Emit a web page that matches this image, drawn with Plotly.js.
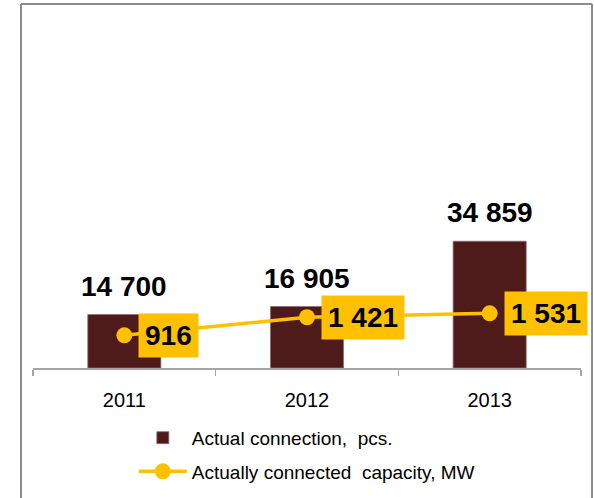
<!DOCTYPE html>
<html>
<head>
<meta charset="utf-8">
<script src="https://cdn.plot.ly/plotly-3.0.1.min.js"></script>
<style>
  html, body { margin: 0; padding: 0; background: #ffffff; }
  #chart { width: 594px; height: 498px; }
</style>
</head>
<body>
<div id="chart"></div>
<script>
// ---- data ----
const years = ['2011', '2012', '2013'];
const connections = [14700, 16905, 34859];
const capacityMW = [916, 1421, 1531];
const seriesNames = ['Actual connection,  pcs.', 'Actually connected  capacity, MW'];

const barColor = '#4E1A1A';
const lineColor = '#FFC000';
const fontFam = 'Liberation Sans, Arial, sans-serif';

function fmt(v) {
  return String(v).replace(/\B(?=(\d{3})+(?!\d))/g, ' ');
}

const traces = [
  {
    type: 'bar',
    name: seriesNames[0],
    x: years,
    y: connections,
    yaxis: 'y',
    marker: { color: barColor, line: { color: '#8a7070', width: 0.8 } },
    width: 0.4,
    hoverinfo: 'skip',
    legendgroup: 'a'
  },
  {
    type: 'scatter',
    mode: 'lines+markers',
    name: seriesNames[1],
    x: years,
    y: capacityMW,
    yaxis: 'y2',
    line: { color: lineColor, width: 3.5 },
    marker: { color: lineColor, size: 16 },
    hoverinfo: 'skip',
    legendgroup: 'b'
  }
];

const annotations = [];
for (let i = 0; i < years.length; i++) {
  annotations.push({
    xref: 'x', yref: 'y', x: i, y: connections[i],
    text: '<b>' + fmt(connections[i]) + '</b>',
    showarrow: false, xanchor: 'center', yanchor: 'bottom', yshift: 11,
    font: { family: fontFam, size: 28, color: '#000000' }
  });
  annotations.push({
    xref: 'x', yref: 'y2', x: i, y: capacityMW[i],
    text: '<b>' + fmt(capacityMW[i]) + '</b>',
    showarrow: false, xanchor: 'left', yanchor: 'middle', xshift: 14,
    bgcolor: lineColor, borderpad: 6,
    font: { family: fontFam, size: 28, color: '#000000' }
  });
}

const borderColor = '#8c8c8c';
const shapes = [
  { type: 'line', xref: 'paper', yref: 'paper', x0: -0.0219, x1: -0.0219, y0: 1.046, y1: -0.40, line: { color: borderColor, width: 2 } },
  { type: 'line', xref: 'paper', yref: 'paper', x0: -0.0219, x1: 1.0201, y0: 1.046, y1: 1.046, line: { color: borderColor, width: 2 } },
  { type: 'line', xref: 'paper', yref: 'paper', x0: 1.0201, x1: 1.0201, y0: 1.046, y1: -0.40, line: { color: borderColor, width: 2 } }
];

const layout = {
  width: 594,
  height: 498,
  margin: { l: 33, r: 13, t: 20, b: 130, autoexpand: false },
  paper_bgcolor: '#ffffff',
  plot_bgcolor: 'rgba(0,0,0,0)',
  font: { family: fontFam, color: '#000000' },
  showlegend: true,
  legend: {
    x: 0.184, y: -0.146, xanchor: 'left', yanchor: 'top',
    font: { family: fontFam, size: 19, color: '#000000' },
    traceorder: 'grouped', tracegroupgap: 6,
    itemwidth: 48, bgcolor: 'rgba(0,0,0,0)'
  },
  xaxis: {
    type: 'category',
    range: [-0.5, 2.5],
    showline: true, linecolor: '#a6a6a6', linewidth: 1.5,
    ticks: 'outside', tickson: 'boundaries', ticklen: 6, tickcolor: '#a6a6a6', tickwidth: 1.5,
    tickfont: { family: fontFam, size: 20, color: '#000000' },
    ticklabelstandoff: 13,
    showgrid: false, zeroline: false, fixedrange: true
  },
  yaxis: {
    range: [0, 95700],
    showticklabels: false, showgrid: false, zeroline: false, showline: false, ticks: '', fixedrange: true
  },
  yaxis2: {
    range: [0, 9744],
    overlaying: 'y', side: 'right',
    showticklabels: false, showgrid: false, zeroline: false, showline: false, ticks: '', fixedrange: true
  },
  annotations: annotations,
  shapes: shapes,
  bargap: 0.6
};

Plotly.newPlot('chart', traces, layout, { displayModeBar: false, staticPlot: true });
</script>
</body>
</html>
